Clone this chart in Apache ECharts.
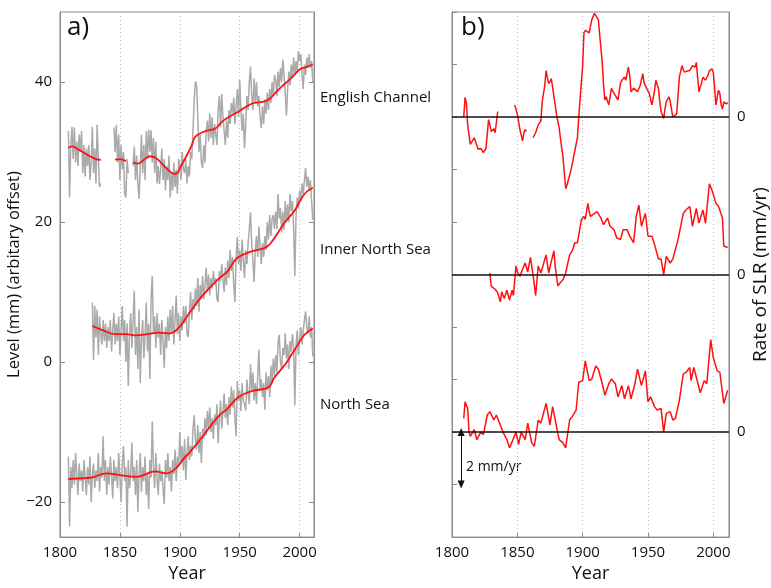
<!DOCTYPE html>
<html>
<head>
<meta charset="utf-8">
<title>Sea level, North Sea regions</title>
<script src="https://cdn.jsdelivr.net/npm/echarts@6/dist/echarts.min.js"></script>
<style>
html, body { margin: 0; padding: 0; background: #fff; }
#chart { width: 771px; height: 588px; }
</style>
</head>
<body>
<div id="chart"></div>
<script>
// annual mean level (mm, arbitrary offset), one row per decade, first year 1800
var grayStart = 1800;
var englishChannelGray = [
  null, null, null, null, null, null, null, 33.0, 23.5, 31,
  33.6, 29, 33.5, 28.5, 31.5, 28, 32.5, 30, 33, 27,
  31, 26.5, 30.5, 28, 31, 26, 28.5, 33.6, 27, 30.5,
  25.5, 33.9, 29, 25, 25.5, null, null, null, null, null,
  null, null, null, null, null, 33.5, 30, 33.9, 28.5, 32.5,
  26, 31, 27.5, 30, 24, 23.5, 29, 27, null, null,
  null, 28, 30.8, 26, 29.5, 25.5, 23.3, 28, 32.5, 27,
  31, 26, 33, 29, 33.2, 30, 33.1, 28.5, 32, 27,
  31.5, 25.5, 28, 25.4, 27.5, 30.5, 26, 29, 24.5, 28,
  26, 29.5, 23.5, 27, 24.5, 28.5, 25, 27.5, 24, 29,
  28.2, 26, 30, 27.5, 27, 29, 25.5, 28, 26.5, 30,
  29, 33, 37.5, 40.1, 39.5, 35, 30, 32.5, 28.5, 27.7,
  31, 28.5, 33, 34.5, 31.5, 35.5, 32, 35, 31, 34,
  34, 31, 36, 38, 33.5, 38.3, 35, 33, 31, 34.5,
  32, 36, 34, 37, 35.5, 37.8, 34, 36.5, 39, 35,
  40.4, 36, 33, 35.5, 30.5, 34, 38, 36, 40, 42.2,
  38, 36, 40.5, 37, 40, 36.5, 38, 35, 33.4, 36.5,
  34, 37.5, 35.5, 38.5, 36, 39, 37, 40, 38, 41,
  40.3, 38, 41.5, 39.3, 42, 40, 43.2, 41, 38.5, 35.2,
  39, 41.5, 39.5, 42.5, 40.5, 43.5, 41, 43, 41.5, 44.4,
  43, 44, 41, 39, 42.5, 41, 43.5, 42, 44, 42,
  43, 40
];
var innerNorthSeaGray = [
  null, null, null, null, null, null, null, null, null, null,
  null, null, null, null, null, null, null, null, null, null,
  null, null, null, null, null, null, null, 8.5, 0.3, 8.0,
  3.5, 7.5, 1.0, 6.5, 4, 2.5, 6, 3, 5.5, 2,
  5, 3, 6, 1.5, 4.5, 7, 2.5, 5.5, 3, 6.5,
  1, 4.5, 8, 3, 6, 0, 5.5, -3.4, 4, 7,
  2, 6, 10.2, 1, 5, -1, 7.5, -3, 3.5, 6,
  0.5, 4, 8.5, 1.5, 5.5, -2.4, 9, 12.3, 4, 6.5,
  2, 7, 3.5, 5.5, 1, 6, 3, -0.8, 5, 2,
  6.5, 3, 7.5, 4, 8, 2.5, 6, 9.5, 4, 7,
  3, 6.5, 4.5, 8, 5.5, 8, 4, 3.6, 7, 10,
  6, 9, 7.5, 10.5, 8, 12, 7.2, 11, 9, 12.3,
  9, 11, 13.5, 10, 12.5, 9.5, 12, 10.5, 13, 11,
  12, 9, 8.6, 13, 11.5, 14, 12, 10, 13.5, 11,
  14.5, 12, 16, 13, 15, 11, 8.6, 15, 17.9, 14,
  16, 13, 17.5, 14.5, 12, 16, 14, 17, 19, 21.4,
  17, 14.5, 11.4, 16, 18, 15, 19.4, 16.5, 14, 17,
  15, 18, 16, 20, 17.5, 21, 18, 20.5, 21, 19,
  21.5, 19, 24, 20.5, 22, 18.5, 21.5, 18.9, 23, 20,
  22.5, 20, 24, 21.5, 23, 19, 12.3, 21, 23.5, 22,
  24.5, 23, 25.5, 24, 26, 27.7, 25, 26.5, 24.5, 26,
  23, 20.3
];
var northSeaGray = [
  null, null, null, null, null, null, null, -13.5, -23.5, -15,
  -18, -14, -17.5, -13, -16, -19, -14.5, -17, -15.5, -18.5,
  -14, -16.5, -19, -15, -17.5, -13.5, -20, -16, -14.5, -18,
  -15.5, -17, -13, -18.5, -15, -16.5, -10.6, -17, -14, -19,
  -15, -17.5, -13.5, -16, -19.5, -14, -17, -15, -18, -13,
  -16.5, -20, -14.5, -12, -17, -15, -23.5, -14, -18, -16,
  -11.5, -17, -15, -19, -14, -21.4, -16, -13, -18.5, -15,
  -17, -13.5, -19, -16, -21, -14, -16.5, -8.5, -15, -18,
  -13, -16.5, -19, -14.5, -17, -15.5, -18, -20.3, -14, -16.5,
  -13, -17, -15, -18.5, -14, -16, -12.5, -17, -13.5, -15,
  -10, -14.5, -12, -15.5, -11, -16.8, -13, -10.6, -14, -12,
  -13.5, -9.5, -7.6, -11, -12.5, -9, -13, -10, -14.4, -9.5,
  -11, -8, -10.5, -7, -9.5, -6.5, -10, -8, -11, -7.5,
  -9, -6, -11.6, -8, -5.5, -9.5, -7, -4.5, -8, -6,
  -9, -5, -7.5, -3.5, -6.5, -4, -8, -10.6, -2.7, -5.5,
  -4, -7, -3, -5.5, -6, -6.9, -2.5, -4.5, -6, -0.3,
  -4, -1.5, -5.5, -3, -6, -2, 1.8, -4, -2.5, -5,
  -3, -6.8, -1.5, -4, -2, -5, -0.5, -3, 0.5, -2,
  1, -1.5, 2.7, 3.9, 0, -1, 2, 1, 4.1, 0.5,
  2.5, -1, 3, 1.5, 4, 2, -6.2, 2.5, 4.5, 1,
  3.4, 5, 2.5, 4.5, 6, 7.2, 5, 4, 6.5, 3.5,
  5, 0.8
];

// smoothed level [year, mm]; null value = gap in the record
var englishChannelSmooth = [
  [1807, 30.6], [1810, 30.8], [1815, 30.4], [1820, 29.9], [1825, 29.4], [1830, 29.0], [1834, 28.9],
  [1840, null],
  [1846, 28.9], [1850, 29.0], [1855, 28.7],
  [1858, null],
  [1861, 28.5], [1865, 28.35], [1870, 28.9], [1875, 29.4], [1880, 29.15], [1885, 28.35], [1890, 27.5],
  [1895, 26.9], [1898, 27.0], [1900, 27.7], [1905, 29.25], [1910, 31.0], [1913, 32.2], [1920, 32.9],
  [1930, 33.4], [1935, 34.3], [1940, 34.9], [1950, 35.9], [1960, 36.9], [1970, 37.2], [1975, 37.6],
  [1980, 38.5], [1985, 39.35], [1990, 40.1], [1995, 40.9], [2000, 41.8], [2005, 42.1], [2011, 42.5]
];
var innerNorthSeaSmooth = [
  [1827, 5.15], [1835, 4.6], [1846, 4.0], [1855, 4.0], [1864, 3.8], [1873, 4.0], [1883, 4.2],
  [1892, 4.1], [1900, 5.05], [1904, 6.0], [1908, 7.0], [1918, 9.3], [1932, 11.85], [1940, 13.0],
  [1948, 14.9], [1960, 15.8], [1971, 16.3], [1976, 17.0], [1987, 19.8], [1996, 21.7], [2004, 24.0],
  [2011, 24.9]
];
var northSeaSmooth = [
  [1807, -16.7], [1817, -16.6], [1826, -16.5], [1839, -15.9], [1849, -16.1], [1864, -16.4],
  [1879, -15.6], [1889, -15.9], [1896, -15.3], [1904, -13.65], [1908, -12.95], [1918, -10.85],
  [1932, -7.8], [1940, -6.6], [1949, -5.0], [1960, -4.15], [1974, -3.6], [1979, -2.2],
  [1988, -0.3], [1996, 1.8], [2004, 3.9], [2011, 4.8]
];

// rate of sea level rise [year, mm/yr]
var englishChannelRate = [
  [1809, 0.0], [1810, 0.75], [1811, 0.55], [1812, -0.3], [1814, -1.04], [1815, -1.0], [1817, -0.79],
  [1818, -0.85], [1820, -1.23], [1822, -1.2], [1824, -1.35], [1825, -1.41], [1826, -1.2], [1828, -0.1],
  [1829, -0.3], [1830, -0.55], [1832, -0.45], [1833, -0.6], [1835, 0.21],
  [1840, null],
  [1848, 0.46], [1849, 0.3], [1850, 0.1], [1852, -0.48], [1853, -0.45], [1854, -0.91], [1855, -0.6],
  [1856, -0.48], [1857, -0.55],
  [1859, null],
  [1862, -0.79], [1864, -0.6], [1866, -0.29], [1868, -0.16], [1869, 0.58], [1871, 1.2], [1872, 1.77],
  [1873, 1.5], [1874, 1.27], [1875, 1.35], [1876, 1.46], [1878, 0.8], [1880, 0.09], [1882, -0.41],
  [1884, -1.2], [1885, -1.54], [1887, -2.73], [1888, -2.6], [1889, -2.4], [1891, -2.04], [1893, -1.54],
  [1896, -0.79], [1897, 0.0], [1899, 1.3], [1900, 1.96], [1901, 3.21], [1902, 3.3], [1903, 3.33],
  [1905, 3.21], [1907, 3.71], [1909, 3.95], [1910, 3.99], [1912, 3.71], [1914, 2.6], [1915, 2.09],
  [1916, 1.2], [1917, 0.65], [1918, 0.77], [1919, 0.6], [1920, 0.46], [1922, 1.09], [1924, 0.9],
  [1925, 0.83], [1927, 0.65], [1929, 1.3], [1930, 1.4], [1932, 1.52], [1933, 1.4], [1935, 1.9],
  [1936, 1.6], [1937, 0.96], [1939, 1.1], [1940, 1.09], [1942, 0.96], [1944, 1.2], [1946, 1.65],
  [1947, 1.3], [1949, 1.09], [1951, 0.89], [1953, 0.46], [1955, 1.0], [1956, 1.4], [1958, 1.09],
  [1959, 0.6], [1960, 0.21], [1962, -0.06], [1963, 0.3], [1964, 0.58], [1966, 0.77], [1967, 0.6],
  [1969, 0.0], [1970, 0.05], [1972, 0.12], [1974, 1.52], [1976, 1.96], [1977, 1.8], [1978, 1.71],
  [1980, 1.75], [1982, 1.77], [1984, 1.96], [1986, 1.9], [1987, 2.08], [1988, 1.5], [1989, 0.96],
  [1991, 1.3], [1992, 1.52], [1994, 1.4], [1996, 1.6], [1997, 1.77], [1999, 1.83], [2000, 1.7],
  [2002, 0.46], [2004, 1.02], [2005, 0.9], [2006, 0.46], [2007, 0.3], [2008, 0.58], [2010, 0.5],
  [2011, 0.55]
];
var innerNorthSeaRate = [
  [1829, 0.06], [1830, -0.44], [1833, -0.56], [1835, -0.7], [1837, -1.04], [1838, -0.66], [1840, -0.91],
  [1842, -0.6], [1844, -0.97], [1846, -0.6], [1847, -0.8], [1849, 0.33], [1850, 0.1], [1852, -0.06],
  [1854, 0.2], [1856, 0.44], [1858, 0.1], [1860, 0.65], [1862, 0.0], [1864, -0.8], [1866, 0.33],
  [1868, 0.06], [1870, 0.4], [1872, 0.75], [1874, 0.06], [1876, 0.5], [1878, 0.9], [1879, 0.3],
  [1881, -0.43], [1883, -0.3], [1885, -0.19], [1887, 0.06], [1890, 0.75], [1892, 0.9], [1894, 1.21],
  [1896, 1.21], [1899, 2.09], [1901, 2.21], [1902, 2.1], [1904, 2.71], [1905, 2.4], [1906, 2.21],
  [1909, 2.33], [1911, 2.4], [1914, 2.15], [1916, 1.9], [1919, 2.15], [1921, 1.84], [1924, 1.71],
  [1926, 1.4], [1929, 1.33], [1931, 1.71], [1934, 1.71], [1936, 1.46], [1939, 1.21], [1941, 2.21],
  [1943, 2.65], [1945, 1.84], [1948, 2.33], [1950, 1.46], [1953, 1.46], [1955, 1.15], [1958, 0.59],
  [1960, 0.59], [1962, 0.0], [1964, 0.69], [1967, 0.44], [1969, 0.59], [1973, 1.33], [1977, 2.33],
  [1979, 2.46], [1982, 2.59], [1984, 1.84], [1987, 2.52], [1989, 1.96], [1992, 2.46], [1994, 1.96],
  [1997, 3.46], [1999, 3.21], [2002, 2.71], [2004, 2.59], [2007, 2.15], [2008, 1.09], [2011, 1.03]
];
var northSeaRate = [
  [1809, 0.52], [1810, 1.15], [1812, 0.9], [1813, 0.0], [1814, -0.16], [1817, 0.09], [1819, -0.29],
  [1822, 0.0], [1824, -0.1], [1827, 0.65], [1829, 0.78], [1832, 0.46], [1834, 0.65], [1837, 0.27],
  [1839, 0.0], [1842, -0.29], [1844, -0.6], [1847, -0.25], [1849, 0.0], [1851, -0.47], [1853, 0.0],
  [1856, -0.29], [1858, 0.34], [1861, -0.41], [1863, -0.54], [1866, 0.46], [1868, 0.34], [1872, 1.09],
  [1875, 0.27], [1877, 0.97], [1880, 0.21], [1882, -0.29], [1885, -0.41], [1887, -0.6], [1890, 0.46],
  [1892, 0.59], [1895, 0.84], [1897, 1.9], [1900, 1.96], [1902, 2.71], [1905, 1.96], [1907, 2.02],
  [1910, 2.52], [1912, 2.4], [1915, 1.84], [1917, 1.4], [1920, 1.84], [1922, 2.02], [1925, 1.84],
  [1927, 1.34], [1930, 1.77], [1932, 1.27], [1935, 1.77], [1937, 1.27], [1940, 1.84], [1942, 2.4],
  [1945, 1.77], [1948, 2.33], [1950, 1.15], [1952, 1.34], [1955, 0.97], [1957, 0.84], [1960, 0.9],
  [1962, 0.0], [1964, 0.71], [1967, 0.78], [1969, 0.46], [1971, 0.52], [1974, 1.21], [1977, 2.21],
  [1979, 2.27], [1982, 2.46], [1983, 1.96], [1985, 2.46], [1988, 1.9], [1990, 1.5], [1993, 1.96],
  [1995, 1.84], [1998, 3.52], [2000, 2.83], [2003, 2.33], [2005, 2.27], [2008, 1.09], [2011, 1.59]
];

var levelTicks = [-20, 0, 20, 40];
var regionNames = ['English Channel', 'Inner North Sea', 'North Sea'];

var font = 'Open Sans';
var grayColor = '#aaaaaa';
var redColor = '#ff1010';
var frameColor = '#8a8a8a';

function annual(values) {
  return values.map(function (v, i) { return [grayStart + i, v == null ? '-' : v]; });
}
function pairs(list, offset) {
  return list.map(function (p) { return [p[0], p[1] == null ? '-' : p[1] + offset]; });
}
function minus(v) { return v < 0 ? '\u2212' + Math.abs(v) : String(v); }

function yearAxis(grid) {
  return {
    gridIndex: grid, type: 'value', min: 1800, max: 2012, interval: 50,
    axisLine: { show: true, onZero: false, lineStyle: { color: frameColor, width: 1 } },
    axisTick: { show: true, inside: true, length: 4, lineStyle: { color: frameColor } },
    axisLabel: {
      color: '#111', fontFamily: font, fontSize: 15, margin: 8, showMaxLabel: false,
      formatter: function (v) { return String(v); }
    },
    splitLine: { show: true, lineStyle: { color: '#bdbdbd', type: [1, 3], width: 1 } },
    name: 'Year', nameLocation: 'middle', nameGap: 24,
    nameTextStyle: { color: '#111', fontFamily: font, fontSize: 18 }
  };
}

function grayLine(values) {
  return {
    type: 'line', xAxisIndex: 0, yAxisIndex: 0, data: annual(values),
    showSymbol: false, connectNulls: false, silent: true,
    lineStyle: { color: grayColor, width: 1.5 }, z: 2
  };
}
function redSmooth(list) {
  return {
    type: 'line', xAxisIndex: 0, yAxisIndex: 0, data: pairs(list, 0),
    showSymbol: false, connectNulls: false, smooth: 0.4, silent: true,
    lineStyle: { color: redColor, width: 1.8 }, z: 3
  };
}
function rateLine(list, offset, extraMarks) {
  return {
    type: 'line', xAxisIndex: 1, yAxisIndex: 2, data: pairs(list, offset),
    showSymbol: false, connectNulls: false, silent: true,
    lineStyle: { color: redColor, width: 1.5 }, z: 3,
    markLine: {
      silent: true, symbol: ['none', 'none'], label: { show: false },
      lineStyle: { color: '#111', width: 1.5, type: 'solid' },
      data: [{ yAxis: offset }].concat(extraMarks || [])
    }
  };
}

var chart = echarts.init(document.getElementById('chart'), null, { renderer: 'canvas' });

var option = {
  backgroundColor: '#fff',
  animation: false,
  grid: [
    { left: 60, top: 12, width: 254, height: 534, show: true, borderColor: frameColor, borderWidth: 1 },
    { left: 452, top: 12, width: 279, height: 534, show: true, borderColor: frameColor, borderWidth: 1 }
  ],
  xAxis: [yearAxis(0), yearAxis(1)],
  yAxis: [
    {
      gridIndex: 0, type: 'value', min: -25, max: 50, position: 'left',
      axisLine: { show: true, onZero: false, lineStyle: { color: frameColor } },
      axisTick: { show: true, inside: true, length: 5, customValues: levelTicks, lineStyle: { color: frameColor } },
      axisLabel: { color: '#111', fontFamily: font, fontSize: 15, margin: 8, customValues: levelTicks, formatter: minus },
      splitLine: { show: false },
      name: 'Level (mm) (arbitary offset)', nameLocation: 'middle', nameGap: 34, nameRotate: 90,
      nameTextStyle: { color: '#111', fontFamily: font, fontSize: 16.5 }
    },
    {
      gridIndex: 0, type: 'value', min: -25, max: 50, position: 'right',
      axisLine: { show: true, onZero: false, lineStyle: { color: frameColor } },
      axisTick: { show: true, inside: true, length: 5, customValues: levelTicks, lineStyle: { color: frameColor } },
      axisLabel: { show: false },
      splitLine: { show: false }
    },
    {
      gridIndex: 1, type: 'value', min: -4, max: 16, interval: 2, position: 'left',
      axisLine: { show: true, onZero: false, lineStyle: { color: frameColor } },
      axisTick: { show: true, inside: true, length: 5, lineStyle: { color: frameColor } },
      axisLabel: { show: false },
      splitLine: { show: false }
    },
    {
      gridIndex: 1, type: 'value', min: -4, max: 16, interval: 2, position: 'right',
      axisLine: { show: true, onZero: false, lineStyle: { color: frameColor } },
      axisTick: { show: false },
      axisLabel: {
        color: '#111', fontFamily: font, fontSize: 15, margin: 8,
        formatter: function (v) { return (v === 0 || v === 6 || v === 12) ? '0' : ''; }
      },
      splitLine: { show: false },
      name: 'Rate of SLR (mm/yr)', nameLocation: 'middle', nameGap: 22, nameRotate: 90,
      nameTextStyle: { color: '#111', fontFamily: font, fontSize: 19 }
    }
  ],
  series: [
    grayLine(englishChannelGray),
    grayLine(innerNorthSeaGray),
    grayLine(northSeaGray),
    redSmooth(englishChannelSmooth),
    redSmooth(innerNorthSeaSmooth),
    redSmooth(northSeaSmooth),
    rateLine(englishChannelRate, 12),
    rateLine(innerNorthSeaRate, 6),
    rateLine(northSeaRate, 0, [[
      { coord: [1807, 0], symbol: 'triangle', symbolSize: [7, 8], lineStyle: { color: '#111', width: 1 } },
      { coord: [1807, -2], symbol: 'triangle', symbolSize: [7, 8] }
    ]])
  ],
  graphic: [
    { type: 'text', left: 67, top: 15, style: { text: 'a)', font: '26px "Open Sans"', fill: '#111' } },
    { type: 'text', left: 461, top: 15, style: { text: 'b)', font: '26px "Open Sans"', fill: '#111' } },
    { type: 'text', left: 320, top: 90, style: { text: regionNames[0], font: '15px "Open Sans"', fill: '#111' } },
    { type: 'text', left: 320, top: 242, style: { text: regionNames[1], font: '15px "Open Sans"', fill: '#111' } },
    { type: 'text', left: 320, top: 397, style: { text: regionNames[2], font: '15px "Open Sans"', fill: '#111' } },
    { type: 'text', left: 466, top: 460, style: { text: '2 mm/yr', font: '14px "Open Sans"', fill: '#111' } }
  ]
};

chart.setOption(option);
</script>
</body>
</html>
